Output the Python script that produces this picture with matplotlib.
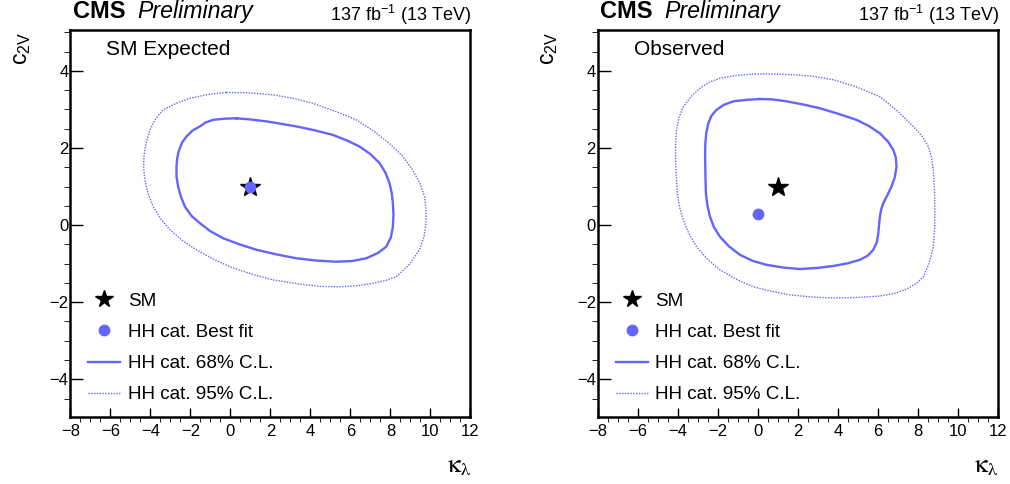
"""Two-panel kl vs c2V likelihood contours (expected / observed)."""

import matplotlib

matplotlib.use("Agg")

import matplotlib.pyplot as plt
from matplotlib.lines import Line2D

plt.rcParams["font.family"] = ["Liberation Sans", "DejaVu Sans"]
plt.rcParams["mathtext.fontset"] = "custom"

BLUE = "#6464ff"

# SM point and best fits
sm_point = (1.0, 1.0)
exp_best = (1.0, 1.0)
obs_best = (0.0, 0.3)

# expected contours (kl, c2v)
exp68_kl = [0.30, -0.30, -0.87, -1.25, -1.53, -1.90, -2.20, -2.42, -2.57, -2.66,
            -2.70, -2.70, -2.62, -2.48, -2.28, -1.95, -1.53, -1.00, -0.37, 0.45,
            1.30, 2.30, 3.29, 4.30, 5.29, 6.10, 6.79, 7.35, 7.79, 8.02,
            8.12, 8.15, 8.12, 8.06, 7.95, 7.75, 7.45, 7.00, 6.45, 5.80,
            5.12, 4.20, 3.29, 2.50, 1.80, 1.00]
exp68_c2v = [2.77, 2.76, 2.73, 2.66, 2.56, 2.45, 2.30, 2.14, 1.95, 1.75,
             1.52, 1.26, 1.00, 0.74, 0.48, 0.24, 0.05, -0.16, -0.34, -0.50,
             -0.64, -0.76, -0.86, -0.92, -0.95, -0.93, -0.86, -0.73, -0.56, -0.32,
             -0.04, 0.27, 0.57, 0.84, 1.09, 1.36, 1.61, 1.84, 2.04, 2.20,
             2.34, 2.46, 2.56, 2.63, 2.69, 2.74]

exp95_kl = [-0.20, -1.10, -2.03, -2.75, -3.37, -3.75, -4.03, -4.22, -4.33, -4.34,
            -4.28, -4.12, -3.87, -3.50, -3.03, -2.40, -1.70, -0.90, -0.04, 1.05,
            2.12, 3.45, 4.50, 5.45, 6.40, 7.20, 7.80, 8.29, 8.95, 9.45,
            9.68, 9.78, 9.78, 9.70, 9.47, 9.11, 8.60, 7.95, 7.15, 6.29,
            5.20, 4.12, 3.10, 2.12, 0.95]
exp95_c2v = [3.44, 3.39, 3.29, 3.15, 2.99, 2.75, 2.47, 2.13, 1.78, 1.47,
             1.17, 0.82, 0.48, 0.17, -0.12, -0.40, -0.64, -0.87, -1.08, -1.27,
             -1.42, -1.53, -1.59, -1.60, -1.57, -1.50, -1.43, -1.34, -1.02, -0.64,
             -0.30, 0.05, 0.40, 0.74, 1.09, 1.43, 1.79, 2.12, 2.44, 2.73,
             2.96, 3.16, 3.29, 3.38, 3.43]

# observed contours
obs68_kl = [0.10, -0.55, -1.23, -1.70, -2.07, -2.33, -2.48, -2.58, -2.63, -2.64,
            -2.63, -2.62, -2.60, -2.53, -2.40, -2.20, -1.90, -1.45, -0.90, -0.25,
            0.43, 1.25, 2.10, 3.00, 3.77, 4.50, 5.10, 5.50, 5.77, 5.95,
            6.02, 6.06, 6.10, 6.16, 6.27, 6.48, 6.68, 6.85, 6.93, 6.90,
            6.77, 6.50, 6.10, 5.55, 4.93, 4.00, 3.10, 2.25, 1.43, 0.75]
obs68_c2v = [3.27, 3.25, 3.21, 3.12, 2.99, 2.83, 2.64, 2.40, 2.12, 1.82,
             1.52, 1.17, 0.83, 0.52, 0.22, -0.05, -0.30, -0.55, -0.77, -0.93,
             -1.03, -1.10, -1.14, -1.11, -1.06, -0.99, -0.90, -0.79, -0.64, -0.44,
             -0.21, 0.01, 0.22, 0.40, 0.57, 0.78, 1.00, 1.25, 1.52, 1.75,
             1.95, 2.17, 2.38, 2.57, 2.73, 2.89, 3.03, 3.13, 3.21, 3.26]

obs95_kl = [-0.23, -1.10, -1.90, -2.45, -2.90, -3.35, -3.73, -3.95, -4.07, -4.12,
            -4.12, -4.08, -4.03, -3.92, -3.73, -3.45, -3.07, -2.55, -1.90, -1.10,
            -0.23, 0.70, 1.60, 2.60, 3.60, 4.85, 6.10, 6.85, 7.43, 7.90,
            8.27, 8.57, 8.77, 8.84, 8.85, 8.83, 8.77, 8.68, 8.52, 8.20,
            7.77, 7.00, 6.10, 4.95, 3.77, 2.75, 1.77, 0.75]
obs95_c2v = [3.92, 3.88, 3.81, 3.70, 3.55, 3.33, 3.07, 2.78, 2.47, 2.08,
             1.69, 1.25, 0.83, 0.47, 0.13, -0.22, -0.56, -0.87, -1.16, -1.40,
             -1.60, -1.72, -1.81, -1.86, -1.89, -1.88, -1.84, -1.77, -1.66, -1.52,
             -1.34, -0.98, -0.56, -0.10, 0.39, 0.91, 1.43, 1.75, 2.04, 2.31,
             2.56, 2.95, 3.33, 3.58, 3.77, 3.86, 3.90, 3.92]


def closed(xs, ys):
    return list(xs) + [xs[0]], list(ys) + [ys[0]]


def draw_panel(ax, c68, c95, best, label, fig):
    x, y = closed(*c95)
    ax.plot(x, y, color=BLUE, lw=1.0, ls=(0, (1, 1)), solid_joinstyle="round")
    x, y = closed(*c68)
    ax.plot(x, y, color=BLUE, lw=1.7, solid_joinstyle="round")
    ax.plot(*sm_point, marker="*", color="black", ms=15, ls="none", zorder=4)
    ax.plot(*best, marker="o", color=BLUE, ms=7.5, ls="none", zorder=5)

    ax.set_xlim(-8, 12)
    ax.set_ylim(-4.97, 5.06)
    ax.set_xticks(range(-8, 13, 2))
    ax.set_yticks([-4, -2, 0, 2, 4])
    ax.set_xticks([v / 2 for v in range(-16, 25)], minor=True)
    ax.set_yticks([v / 2 for v in range(-9, 11)], minor=True)
    ax.tick_params(direction="in", labelsize=12, width=1.0)
    ax.tick_params(axis="y", which="major", length=9, pad=1.5)
    ax.tick_params(axis="y", which="minor", length=4.5)
    ax.tick_params(axis="x", which="major", length=6.5, pad=5)
    ax.tick_params(axis="x", which="minor", length=3.5)
    for sp in ax.spines.values():
        sp.set_linewidth(1.8)

    ax.text(0.09, 0.935, label, transform=ax.transAxes, fontsize=15,
            va="baseline")

    handles = [
        Line2D([], [], marker="*", color="black", ms=13, ls="none"),
        Line2D([], [], marker="o", color=BLUE, ms=7.5, ls="none"),
        Line2D([], [], color=BLUE, lw=1.7),
        Line2D([], [], color=BLUE, lw=1.0, ls=(0, (1, 1))),
    ]
    labels = ["SM", "HH cat. Best fit", "HH cat. 68% C.L.", "HH cat. 95% C.L."]
    ax.legend(handles, labels, loc="upper left", bbox_to_anchor=(0.044, 0.321),
              frameon=False, fontsize=13.6, borderpad=0, borderaxespad=0,
              handlelength=1.7, handletextpad=0.4, labelspacing=0.74)

    bb = ax.get_position()
    fig.text(bb.x0 + 0.002, 0.963, "CMS", fontsize=17, fontweight="bold",
             va="baseline")
    fig.text(bb.x0 + 0.066, 0.963, "Preliminary", fontsize=16.7, style="italic",
             va="baseline")
    fig.text(bb.x1 + 0.001, 0.957, r"137 fb$\mathregular{^{-1}}$ (13 TeV)",
             fontsize=13, ha="right", va="baseline")
    fig.text(bb.x0 - 0.049, bb.y1 - 0.004, r"$\mathregular{c_{2V}}$", fontsize=16.5,
             rotation=90, ha="center", va="top")
    fig.text(bb.x1 + 0.001, 0.025, r"$\mathrm{\kappa_{\lambda}}$", fontsize=19,
             ha="right", va="baseline", math_fontfamily="stix")


fig = plt.figure(figsize=(10.1, 4.84), dpi=100)
ax1 = fig.add_axes([0.0698, 0.139, 0.396, 0.799])
ax2 = fig.add_axes([0.592, 0.139, 0.396, 0.799])

draw_panel(ax1, (exp68_kl, exp68_c2v), (exp95_kl, exp95_c2v), exp_best,
           "SM Expected", fig)
draw_panel(ax2, (obs68_kl, obs68_c2v), (obs95_kl, obs95_c2v), obs_best,
           "Observed", fig)

fig.savefig("out.png", dpi=100)
